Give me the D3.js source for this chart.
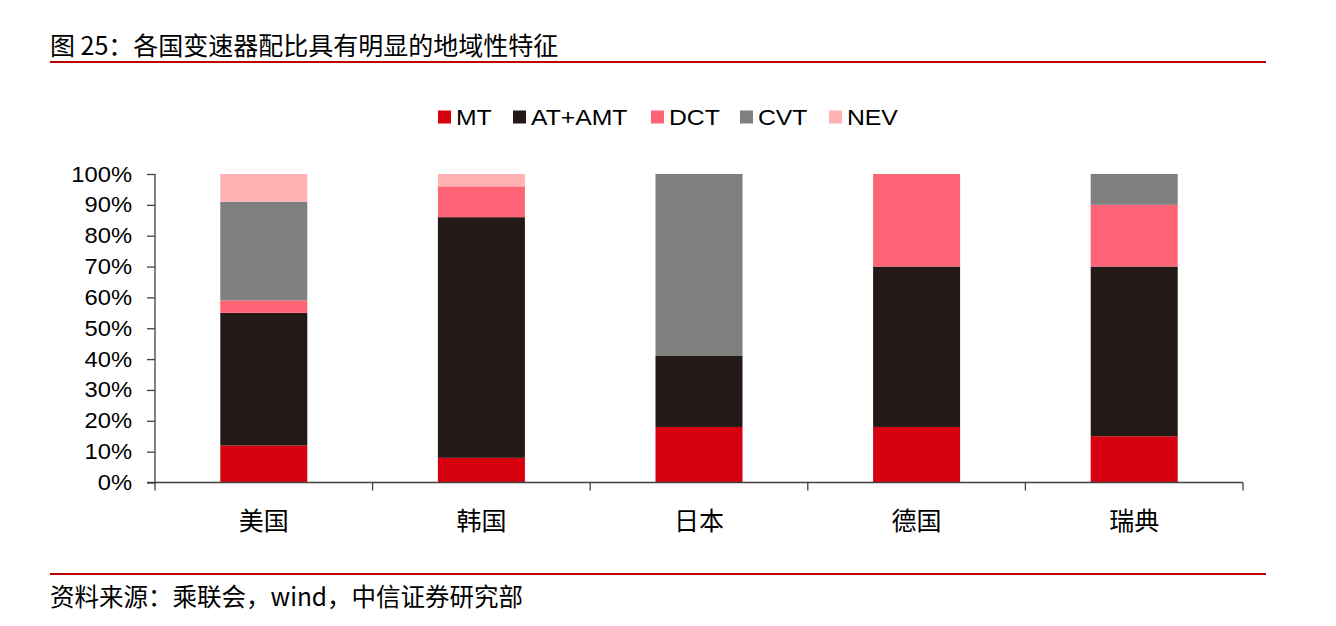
<!DOCTYPE html>
<html><head><meta charset="utf-8">
<script src="https://cdn.jsdelivr.net/npm/d3@7"></script>
<style>
body{margin:0;background:#fff;}
svg{display:block;font-family:"Liberation Sans",Arial,"Noto Sans CJK SC",sans-serif;}
</style></head><body>
<svg id="c" width="1336" height="626"></svg>
<script>
const categories = ["美国","韩国","日本","德国","瑞典"];
const seriesNames = ["MT","AT+AMT","DCT","CVT","NEV"];
const MT     = [12, 8, 18, 18, 15];
const ATAMT  = [43, 78, 23, 52, 55];
const DCT    = [4, 10, 0, 30, 20];
const CVT    = [32, 0, 59, 0, 10];
const NEV    = [9, 4, 0, 0, 0];
const colors = ["#D7000F","#231916","#FF6376","#7F7F7F","#FFB1B3"];
const yTicks = [0,10,20,30,40,50,60,70,80,90,100];
const title = "图 25：各国变速器配比具有明显的地域性特征";
const source = "资料来源：乘联会，wind，中信证券研究部";

const svgEl = d3.select("#c");
const cjk = '"Noto Sans CJK SC","Liberation Sans",sans-serif';
const lat = '"Liberation Sans",Arial,sans-serif';

// title & rules
svgEl.append("text").attr("x",50).attr("y",55).attr("font-family",cjk)
  .attr("font-size",25).attr("fill","#000").text(title);
svgEl.append("line").attr("x1",50).attr("x2",1266).attr("y1",62).attr("y2",62)
  .attr("stroke","#C00000").attr("stroke-width",2);
svgEl.append("line").attr("x1",50).attr("x2",1266).attr("y1",574).attr("y2",574)
  .attr("stroke","#C00000").attr("stroke-width",2);
svgEl.append("text").attr("x",50).attr("y",606).attr("font-family",cjk)
  .attr("font-size",24.5).attr("fill","#000").text(source);

const xb = d3.scaleBand().domain(categories).range([155,1243]);
const y = d3.scaleLinear().domain([0,100]).range([482.5,174]);

const table = categories.map((c,i)=>({cat:c,"MT":MT[i],"AT+AMT":ATAMT[i],"DCT":DCT[i],"CVT":CVT[i],"NEV":NEV[i]}));
const stacked = d3.stack().keys(seriesNames)(table);

const g = svgEl.append("g");
g.selectAll("g.s").data(stacked).join("g").attr("fill",(d,i)=>colors[i])
  .selectAll("rect").data(d=>d.filter(p=>p[1]-p[0]>0)).join("rect")
  .attr("x",d=>xb(d.data.cat)+xb.bandwidth()/2-43.5)
  .attr("width",87)
  .attr("y",d=>y(d[1]))
  .attr("height",d=>y(d[0])-y(d[1]));

// y axis
const yAxis = d3.axisLeft(y).tickValues(yTicks).tickFormat(d=>d+"%").tickSize(8).tickPadding(15);
const ya = svgEl.append("g").attr("transform","translate(155,0)").call(yAxis);
ya.selectAll("path,line").attr("stroke","#404040").attr("stroke-width",1.3);
ya.select(".domain").attr("d","M0,174V482.5");
ya.selectAll("text").attr("font-size",22).attr("fill","#000").attr("font-family",lat)
  .attr("transform","scale(1.08,1)").attr("x",-23/1.08*1.0);

// x axis
const xa = svgEl.append("g").attr("transform","translate(0,482.5)");
xa.append("line").attr("x1",147).attr("x2",1243).attr("stroke","#404040").attr("stroke-width",1.5);
const bounds = categories.map(c=>xb(c)).concat([1243]);
xa.selectAll("line.t").data(bounds).join("line").attr("class","t")
  .attr("x1",d=>d).attr("x2",d=>d).attr("y1",0).attr("y2",8)
  .attr("stroke","#404040").attr("stroke-width",1.3);
xa.selectAll("text").data(categories).join("text")
  .attr("x",d=>xb(d)+xb.bandwidth()/2).attr("y",47).attr("text-anchor","middle")
  .attr("font-family",cjk).attr("font-size",25).attr("fill","#000").text(d=>d);

// legend
const legX = [438,513,651,740,829];
const lg = svgEl.append("g");
seriesNames.forEach((s,i)=>{
  lg.append("rect").attr("x",legX[i]).attr("y",110.5).attr("width",13).attr("height",13).attr("fill",colors[i]);
  lg.append("text").attr("transform",`translate(${legX[i]+18},125) scale(1.1,1)`)
    .attr("font-size",22.5).attr("fill","#000").attr("font-family",lat).text(s);
});
</script>
</body></html>
